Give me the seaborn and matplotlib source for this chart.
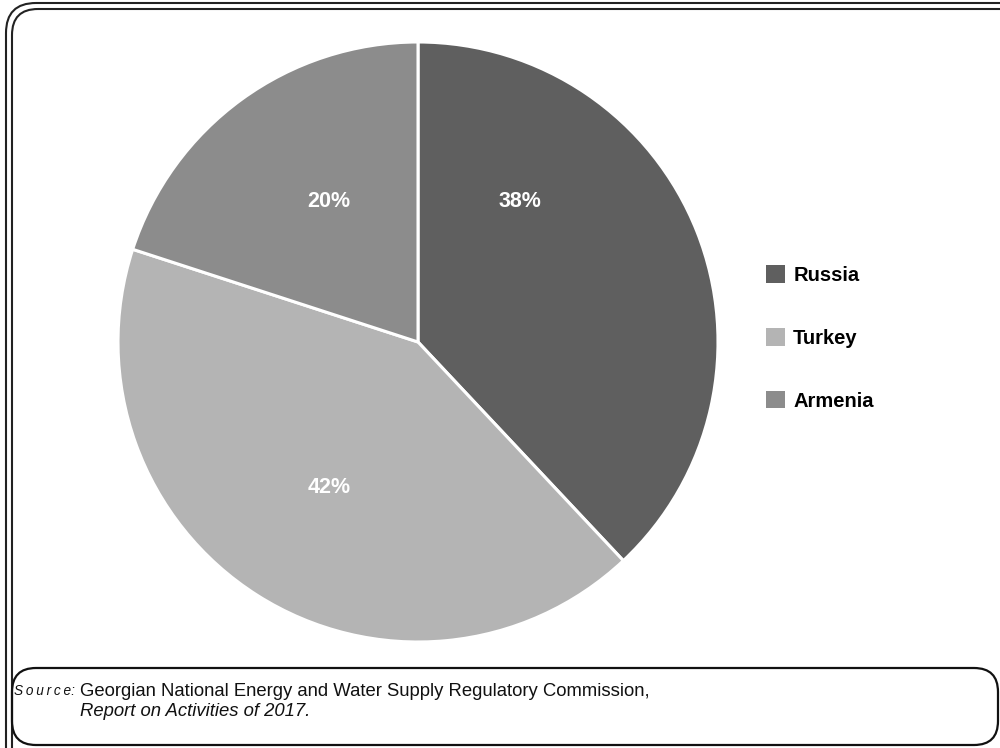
import numpy as np
import matplotlib
matplotlib.use("Agg")
import matplotlib.pyplot as plt
from matplotlib.patches import FancyBboxPatch, Patch
import seaborn as sns

# Electricity import shares by country
countries = ["Russia", "Turkey", "Armenia"]
shares = [38, 42, 20]
colors = ["#5f5f5f", "#b4b4b4", "#8c8c8c"]

source_lead = "S\u2009o\u2009u\u2009r\u2009c\u2009e:"
source_line1 = "Georgian National Energy and Water Supply Regulatory Commission,"
source_line2 = "Report on Activities of 2017."

sns.set_style("white")
plt.rcParams["font.family"] = ["Liberation Sans", "DejaVu Sans"]

W, H = 1000, 748
fig = plt.figure(figsize=(W / 100, H / 100), dpi=100)
fig.patch.set_facecolor("white")

# Overlay in pixel units for the decorative frames
frame_ax = fig.add_axes([0, 0, 1, 1])
frame_ax.set_xlim(0, W)
frame_ax.set_ylim(H, 0)
frame_ax.axis("off")

def rounded(x0, y0, x1, y1, r, lw=1.5, color="#222222"):
    p = FancyBboxPatch((x0 + r, y0 + r), (x1 - x0) - 2 * r, (y1 - y0) - 2 * r,
                       boxstyle=f"round,pad={r}", fill=False,
                       linewidth=lw, edgecolor=color)
    frame_ax.add_patch(p)

# double outer frame (right and bottom sides run off the sheet)
rounded(6, 3, 1040, 800, 30)
rounded(12, 9, 1034, 794, 26)
# source box
rounded(12, 668, 998, 745, 24, lw=1.6, color="#111111")

frame_ax.text(75, 691, source_lead, fontsize=9.8, style="italic",
              va="center", ha="right", color="#111111")
frame_ax.text(80, 691, source_line1, fontsize=13.3, va="center",
              ha="left", color="#111111")
frame_ax.text(80, 712, source_line2, fontsize=13.3, style="italic",
              va="center", ha="left", color="#111111")

# Pie
cx, cy, R = 418, 342, 300
ax = fig.add_axes([(cx - R) / W, (H - cy - R) / H, 2 * R / W, 2 * R / H])
wedges, texts, autotexts = ax.pie(
    shares, colors=colors, startangle=90, counterclock=False,
    autopct="%d%%", pctdistance=0.57,
    wedgeprops=dict(edgecolor="white", linewidth=2.2),
    textprops=dict(color="white", fontsize=15.5, fontweight="bold"),
)
ax.set_aspect("equal")
ax.set_xlim(-1, 1)
ax.set_ylim(-1, 1)

# Label placement (angle in degrees, radial fraction)
label_pos = [(54, 0.577), (238.6, 0.57), (122.4, 0.553)]
for t, (ang, rr) in zip(autotexts, label_pos):
    a = np.deg2rad(ang)
    t.set_position((rr * np.cos(a), rr * np.sin(a)))
    t.set_ha("center")
    t.set_va("center")

handles = [Patch(facecolor=c, edgecolor="none") for c in colors]
fig.legend(handles, countries, loc="center left",
           bbox_to_anchor=(0.766, 1 - 338 / H), frameon=False,
           prop=dict(weight="bold", size=14.5), labelcolor="black",
           borderpad=0, handlelength=0.95, handleheight=0.95,
           handletextpad=0.4, labelspacing=2.15, borderaxespad=0)

fig.savefig("out.png", dpi=100)
